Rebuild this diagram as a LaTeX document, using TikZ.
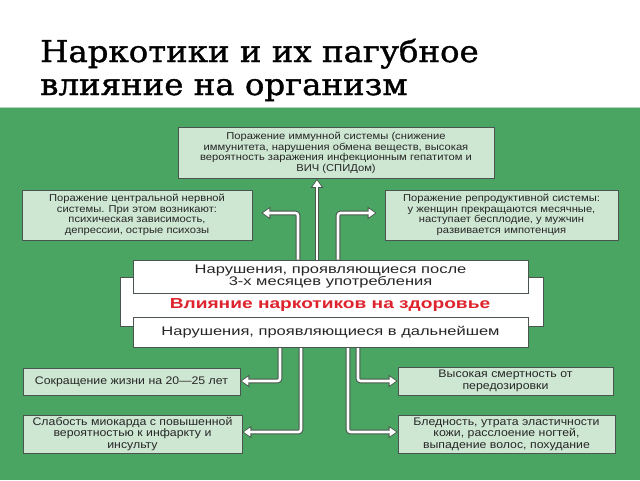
\documentclass[tikz,border=0pt]{standalone}
\usepackage{fontspec}
\setmainfont{Liberation Sans}
\newfontfamily\titlefont[FakeStretch=1.08,FakeBold=1.2]{DejaVu Serif}
\newfontfamily\boxfont[FakeStretch=1.12]{Liberation Sans}
\newfontfamily\midfont[FakeStretch=1.32]{Liberation Sans}
\usetikzlibrary{arrows.meta}
\definecolor{bg}{RGB}{74,164,98}
\definecolor{boxfill}{RGB}{206,231,210}
\definecolor{boxline}{RGB}{75,85,80}
\definecolor{txt}{RGB}{38,38,38}
\definecolor{redt}{RGB}{222,35,45}
\pgfdeclarelayer{back}
\pgfdeclarelayer{mid}
\pgfsetlayers{back,mid,main}
\begin{document}
\begin{tikzpicture}[x=1pt,y=-1pt,
  gbox/.style={draw=boxline, line width=0.9pt, fill=boxfill, inner sep=0pt, align=center, text=txt,
    font=\boxfont\fontsize{10}{10.6}\selectfont},
  gboxb/.style={gbox, font=\boxfont\fontsize{11}{11.5}\selectfont},
  wbox/.style={draw=boxline, line width=0.9pt, fill=white, inner sep=0pt, align=center, text=txt,
    font=\midfont\fontsize{12.5}{12.6}\selectfont},
  titlestyle/.style={anchor=base west, inner sep=0pt, font=\titlefont\fontsize{30}{35}\selectfont, text=black},
  warrow/.style={white, line width=2.6pt, rounded corners=2.5pt,
    -{Triangle[length=6.5pt,width=8.5pt]}, shorten >=1.4pt,
    preaction={draw=boxline, line width=4.6pt, shorten >=0pt,
      -{Triangle[length=9pt,width=12pt]}}}]
\path[use as bounding box] (0,0) rectangle (640,480);
\begin{pgfonlayer}{back}
\fill[white] (0,0) rectangle (640,480);
\fill[bg] (0,108) rectangle (640,480);
\draw[bg!45!white, line width=1pt] (0,107.5) -- (640,107.5);
\end{pgfonlayer}

% title
\node[titlestyle] (t1) at (40,62) {Наркотики и их пагубное};
\node[titlestyle] (t2) at (40,95) {влияние на организм};

% upper boxes
\node[gbox, minimum width=316pt, minimum height=51pt] (imm) at (336,153) {Поражение иммунной системы (снижение\\ иммунитета, нарушения обмена веществ, высокая\\ вероятность заражения инфекционным гепатитом и\\ ВИЧ (СПИДом)};
\node[gbox, minimum width=230pt, minimum height=50pt] (cns) at (137,215) {Поражение центральной нервной\\ системы. При этом возникают:\\ психическая зависимость,\\ депрессии, острые психозы};
\node[gbox, minimum width=233pt, minimum height=50pt] (rep) at (501.5,215) {Поражение репродуктивной системы:\\ у женщин прекращаются месячные,\\ наступает бесплодие, у мужчин\\ развивается импотенция};

% central block
\node[draw=boxline, line width=0.9pt, fill=white, minimum width=423pt, minimum height=49pt, inner sep=0pt] (frame) at (331.5,301.5) {};
\node[wbox, minimum width=395pt, minimum height=33pt] (up) at (330.5,276.5) {Нарушения, проявляющиеся после\\ 3-х месяцев употребления};
\node[wbox, minimum width=395pt, minimum height=30pt] (low) at (330.5,332) {Нарушения, проявляющиеся в дальнейшем};
\node[inner sep=0pt, text=redt, font=\midfont\bfseries\fontsize{14.5}{14.5}\selectfont] (red) at (330,305) {Влияние наркотиков на здоровье};

% lower boxes
\node[gboxb, minimum width=217pt, minimum height=27pt] (life) at (131.5,381.5) {Сокращение жизни на 20—25 лет};
\node[gboxb, minimum width=219pt, minimum height=38pt] (myo) at (132.5,434) {Слабость миокарда с повышенной\\ вероятностью к инфаркту и\\ инсульту};
\node[gboxb, minimum width=215pt, minimum height=28pt] (mort) at (505.5,381) {Высокая смертность от\\ передозировки};
\node[gboxb, minimum width=217pt, minimum height=38pt] (pale) at (506.5,434) {Бледность, утрата эластичности\\ кожи, расслоение ногтей,\\ выпадение волос, похудание};

% arrows
\coordinate (uc) at (317,0);
\coordinate (ua) at (298,213);
\coordinate (ub) at (338,213);
\coordinate (la) at (280,381);
\coordinate (lb) at (301,432);
\coordinate (ra) at (358,381);
\coordinate (rb) at (348,432);
\begin{pgfonlayer}{mid}
\draw[warrow] (up.north -| uc) -- (imm.south -| uc);
\draw[warrow] (up.north -| ua) |- ([xshift=9pt]cns.east |- ua);
\draw[warrow] (up.north -| ub) |- ([xshift=-8pt]rep.west |- ub);
\draw[warrow] (low.south -| la) |- (life.east |- la);
\draw[warrow] (low.south -| lb) |- (myo.east |- lb);
\draw[warrow] (low.south -| ra) |- (mort.west |- ra);
\draw[warrow] (low.south -| rb) |- (pale.west |- rb);
\end{pgfonlayer}
\end{tikzpicture}
\end{document}
